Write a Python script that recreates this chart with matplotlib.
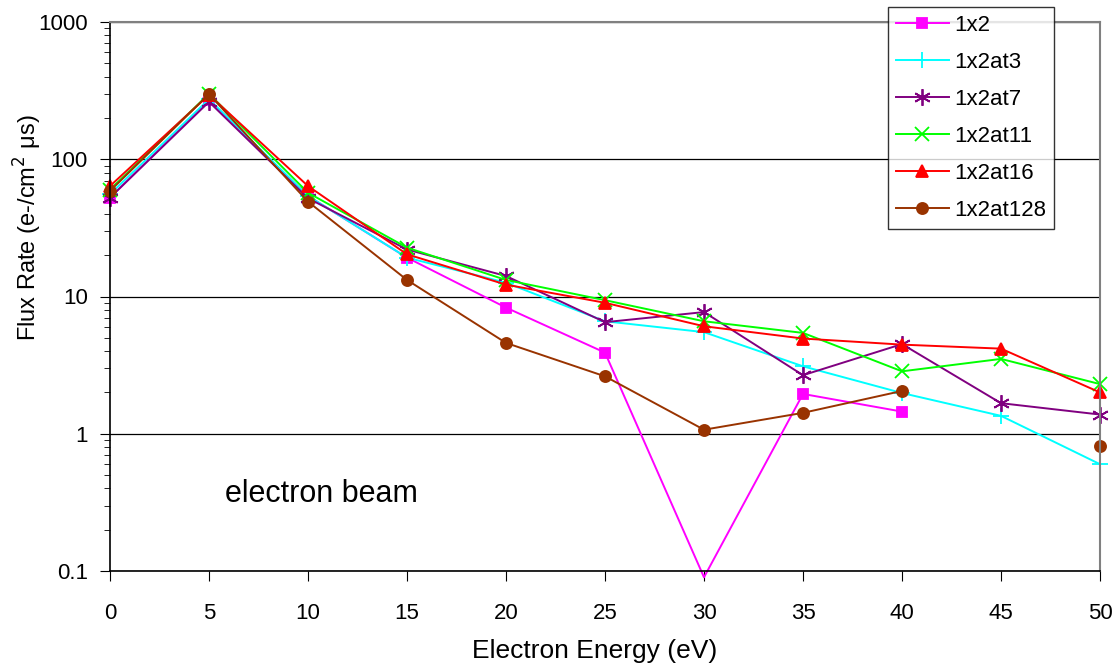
import matplotlib.pyplot as plt
import numpy as np

plt.rcParams['font.family'] = ['Liberation Sans', 'DejaVu Sans']

energy = [0, 5, 10, 15, 20, 25, 30, 35, 40, 45, 50]

# nan = no point measured
flux_1x2 = [52.5, 268, 54, 19.2, 8.3, 3.9, 0.09, 1.95, 1.45, np.nan, np.nan]
flux_1x2at3 = [55.6, 274, 54, 19.2, 12.6, 6.6, 5.5, 3.1, 1.98, 1.35, 0.60]
flux_1x2at7 = [52.5, 262, 52, 22.0, 14.1, 6.5, 7.7, 2.67, 4.5, 1.67, 1.38]
flux_1x2at11 = [60, 300, 57, 22.7, 13.2, 9.4, 6.6, 5.43, 2.85, 3.51, 2.30]
flux_1x2at16 = [63.8, 295, 63.8, 20.3, 12.2, 9.0, 6.07, 4.94, 4.46, 4.17, 2.0]
flux_1x2at128 = [58.7, 298, 49.1, 13.2, 4.59, 2.62, 1.07, 1.42, 2.05, np.nan, 0.81]

series = [
    ("1x2", flux_1x2, "#FF00FF", "s", 7),
    ("1x2at3", flux_1x2at3, "#00FFFF", "+", 11),
    ("1x2at7", flux_1x2at7, "#800080", (6, 2, 0), 12),
    ("1x2at11", flux_1x2at11, "#00FF00", "x", 10),
    ("1x2at16", flux_1x2at16, "#FF0000", "^", 8),
    ("1x2at128", flux_1x2at128, "#993300", "o", 8),
]

fig = plt.figure(figsize=(11.18, 6.70), dpi=100)
ax = fig.add_axes([110 / 1118, 1 - 571 / 670, 990 / 1118, 549 / 670])

for label, vals, color, marker, ms in series:
    vals = np.array(vals, dtype=float)
    # markers only where the point is inside the axis range
    shown = [i for i, v in enumerate(vals) if not np.isnan(v) and v >= 0.1]
    ax.plot(energy, vals, color=color, lw=1.4, marker=marker, ms=ms,
            mew=1.3, markevery=shown, label=label, clip_on=False)

ax.set_yscale('log')
ax.set_ylim(0.1, 1000)
ax.set_xlim(0, 50)
ax.set_xticks(energy)
ax.set_yticks([0.1, 1, 10, 100, 1000])
ax.set_yticklabels(['0.1', '1', '10', '100', '1000'])
ax.yaxis.grid(True, which='major', color='black', lw=0.9)
ax.tick_params(axis='x', which='major', direction='out', length=7,
               labelsize=16, pad=16)
ax.tick_params(axis='y', which='major', direction='out', length=7,
               labelsize=16, pad=9)
ax.tick_params(axis='y', which='minor', direction='out', length=4)
ax.tick_params(axis='x', which='minor', bottom=False)
for side in ['top', 'right']:
    ax.spines[side].set_color('#808080')
    ax.spines[side].set_linewidth(1.5)
for side in ['left', 'bottom']:
    ax.spines[side].set_color('black')
    ax.spines[side].set_linewidth(1.2)

ax.set_xlabel('Electron Energy (eV)', fontsize=19)
ax.xaxis.label.set_va('center')
ax.xaxis.set_label_coords(0.49, -0.146)
ax.set_ylabel('Flux Rate (e-/cm$^2$ μs)', fontsize=17)
ax.yaxis.label.set_va('center')
ax.yaxis.set_label_coords(-0.083, 0.625)

ax.text(5.8, 0.32, 'electron beam', fontsize=22, va='baseline', ha='left')

leg = ax.legend(loc='upper left', bbox_to_anchor=(888 / 1118, 1 - 7 / 670),
                bbox_transform=fig.transFigure, borderaxespad=0,
                fontsize=16, frameon=True, fancybox=False, edgecolor='black',
                handlelength=2.4, borderpad=0.35, labelspacing=0.72,
                handletextpad=0.25)
leg.get_frame().set_linewidth(1.0)
leg.set_zorder(10)

fig.savefig('out.png', dpi=100)
